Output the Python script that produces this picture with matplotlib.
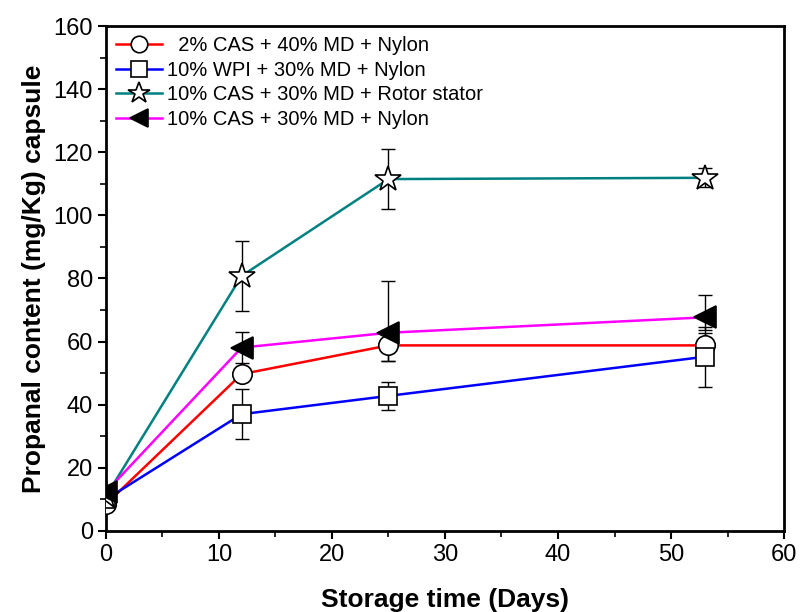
import matplotlib.pyplot as plt
import numpy as np

plt.rcParams['font.family'] = ['Liberation Sans', 'DejaVu Sans']

days = [0, 12, 25, 53]

labels = ['  2% CAS + 40% MD + Nylon',
          '10% WPI + 30% MD + Nylon',
          '10% CAS + 30% MD + Rotor stator',
          '10% CAS + 30% MD + Nylon']

cas2_md40 = [8.5, 49.7, 58.8, 58.8]
cas2_md40_err_lo = [1.0, 1.0, 4.8, 4.0]
cas2_md40_err_hi = [1.0, 1.0, 4.8, 4.0]

wpi10_md30 = [10.0, 37.0, 42.8, 55.2]
wpi10_md30_err_lo = [1.0, 8.0, 4.4, 9.5]
wpi10_md30_err_hi = [1.0, 8.0, 4.4, 9.5]

cas10_rotor = [11.0, 80.8, 111.5, 111.9]
cas10_rotor_err_lo = [1.0, 11.0, 9.5, 3.0]
cas10_rotor_err_hi = [1.0, 11.0, 9.5, 3.0]

cas10_nylon = [12.4, 58.1, 62.8, 67.7]
cas10_nylon_err_lo = [1.5, 5.0, 8.8, 4.0]
cas10_nylon_err_hi = [1.5, 5.0, 16.4, 7.0]

series = [
    (cas2_md40, cas2_md40_err_lo, cas2_md40_err_hi, 'red', 'o', 14),
    (wpi10_md30, wpi10_md30_err_lo, wpi10_md30_err_hi, 'blue', 's', 13),
    (cas10_rotor, cas10_rotor_err_lo, cas10_rotor_err_hi, '#008080', '*', 19),
    (cas10_nylon, cas10_nylon_err_lo, cas10_nylon_err_hi, 'magenta', '<', 16),
]

fig = plt.figure(figsize=(8.01, 6.12), dpi=100)
ax = fig.add_axes([0.1323, 0.1324, 0.8465, 0.8251])

handles = []
for (vals, lo, hi, col, mk, ms), lab in zip(series, labels):
    ax.errorbar(days, vals, yerr=[lo, hi], fmt='none', ecolor='black',
                elinewidth=1, capsize=5, capthick=1, zorder=2)
    face = 'black' if mk == '<' else 'white'
    h, = ax.plot(days, vals, color=col, lw=1.8, marker=mk, ms=ms,
                 mfc=face, mec='black', mew=1.2, label=lab, zorder=3)
    handles.append(h)

ax.set_xlim(0, 60)
ax.set_ylim(0, 160)
ax.set_xticks(np.arange(0, 61, 10))
ax.set_xticks(np.arange(0, 61, 5), minor=True)
ax.set_yticks(np.arange(0, 161, 20))
ax.set_yticks(np.arange(0, 161, 10), minor=True)
ax.tick_params(axis='both', which='major', labelsize=17, length=6, width=1.5,
               direction='out')
ax.tick_params(axis='both', which='minor', length=4, width=1.2, direction='out')
for sp in ax.spines.values():
    sp.set_linewidth(2)

ax.set_xlabel('Storage time (Days)', fontsize=19, fontweight='bold', labelpad=16)
ax.set_ylabel('Propanal content (mg/Kg) capsule', fontsize=19,
              fontweight='bold', labelpad=5)

ax.legend(handles=handles, loc='upper left', frameon=False, fontsize=14.5,
          handlelength=2.3, handletextpad=0.25, labelspacing=0.28,
          markerscale=0.85, borderaxespad=0.1, bbox_to_anchor=(0.0, 1.0))

fig.savefig('out.png', dpi=100)
